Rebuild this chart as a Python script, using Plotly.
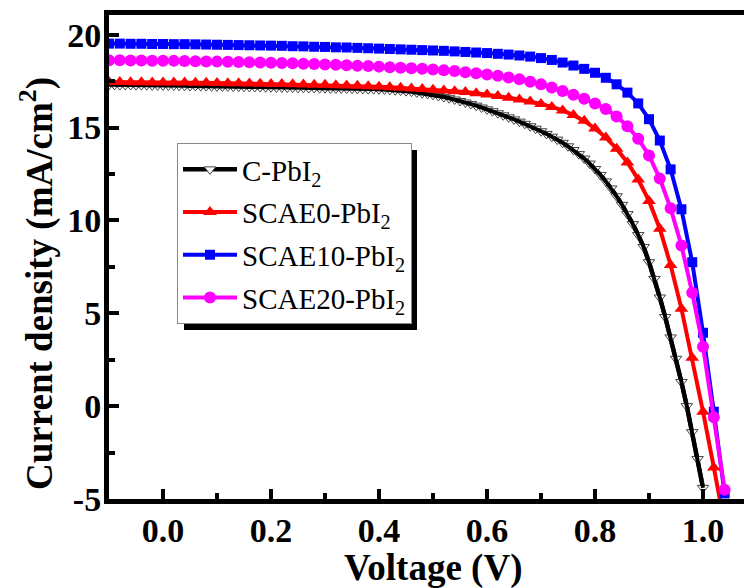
import plotly.graph_objects as go

# ---------------- data ----------------
v_black = [-0.10, -0.09, -0.08, -0.07, -0.06, -0.05, -0.04, -0.03, -0.02, -0.01,
           0.00, 0.01, 0.02, 0.03, 0.04, 0.05, 0.06, 0.07, 0.08, 0.09,
           0.10, 0.11, 0.12, 0.13, 0.14, 0.15, 0.16, 0.17, 0.18, 0.19,
           0.20, 0.21, 0.22, 0.23, 0.24, 0.25, 0.26, 0.27, 0.28, 0.29,
           0.30, 0.31, 0.32, 0.33, 0.34, 0.35, 0.36, 0.37, 0.38, 0.39,
           0.40, 0.41, 0.42, 0.43, 0.44, 0.45, 0.46, 0.47, 0.48, 0.49,
           0.50, 0.51, 0.52, 0.53, 0.54, 0.55, 0.56, 0.57, 0.58, 0.59,
           0.60, 0.61, 0.62, 0.63, 0.64, 0.65, 0.66, 0.67, 0.68, 0.69,
           0.70, 0.71, 0.72, 0.73, 0.74, 0.75, 0.76, 0.77, 0.78, 0.79,
           0.80, 0.81, 0.82, 0.83, 0.84, 0.85, 0.86, 0.87, 0.88, 0.89,
           0.90, 0.91, 0.92, 0.93, 0.94, 0.95, 0.96, 0.97, 0.98, 0.99, 1.00]
j_c_pbi2 = [17.30, 17.30, 17.29, 17.29, 17.29, 17.28, 17.28, 17.28, 17.27, 17.27,
            17.27, 17.26, 17.26, 17.25, 17.25, 17.24, 17.24, 17.23, 17.23, 17.22,
            17.22, 17.21, 17.21, 17.20, 17.20, 17.19, 17.19, 17.18, 17.18, 17.17,
            17.17, 17.16, 17.16, 17.15, 17.15, 17.14, 17.14, 17.13, 17.13, 17.12,
            17.12, 17.11, 17.11, 17.10, 17.10, 17.09, 17.09, 17.08, 17.07, 17.07,
            17.06, 17.05, 17.03, 17.01, 16.99, 16.96, 16.93, 16.89, 16.85, 16.81,
            16.76, 16.70, 16.64, 16.58, 16.51, 16.43, 16.35, 16.27, 16.18, 16.08,
            15.98, 15.88, 15.77, 15.66, 15.55, 15.44, 15.32, 15.20, 15.07, 14.94,
            14.80, 14.66, 14.51, 14.35, 14.18, 13.99, 13.79, 13.57, 13.33, 13.06,
            12.77, 12.45, 12.10, 11.72, 11.30, 10.84, 10.34, 9.80, 9.21, 8.57,
            7.75, 6.85, 5.85, 4.80, 3.70, 2.55, 1.30, 0.00, -1.40, -2.85, -4.40]

v_coarse = [-0.10, -0.08, -0.06, -0.04, -0.02, 0.00, 0.02, 0.04, 0.06, 0.08,
            0.10, 0.12, 0.14, 0.16, 0.18, 0.20, 0.22, 0.24, 0.26, 0.28,
            0.30, 0.32, 0.34, 0.36, 0.38, 0.40, 0.42, 0.44, 0.46, 0.48,
            0.50, 0.52, 0.54, 0.56, 0.58, 0.60, 0.62, 0.64, 0.66, 0.68,
            0.70, 0.72, 0.74, 0.76, 0.78, 0.80, 0.82, 0.84, 0.86, 0.88,
            0.90, 0.92, 0.94, 0.96, 0.98, 1.00, 1.02, 1.04]
j_scae0 = [17.45, 17.45, 17.44, 17.44, 17.43, 17.43, 17.42, 17.42, 17.41, 17.41,
           17.40, 17.39, 17.38, 17.37, 17.36, 17.35, 17.34, 17.33, 17.32, 17.31,
           17.30, 17.28, 17.27, 17.25, 17.22, 17.20, 17.17, 17.14, 17.10, 17.07,
           17.04, 17.00, 16.96, 16.91, 16.85, 16.78, 16.70, 16.61, 16.51, 16.40,
           16.27, 16.11, 15.92, 15.67, 15.36, 14.95, 14.46, 13.86, 13.12, 12.20,
           11.05, 9.55, 7.60, 5.25, 2.60, -0.30, -3.30, -6.40]
j_scae10 = [19.52, 19.52, 19.51, 19.51, 19.50, 19.50, 19.49, 19.49, 19.48, 19.47,
            19.46, 19.45, 19.44, 19.43, 19.42, 19.41, 19.40, 19.38, 19.37, 19.35,
            19.34, 19.32, 19.31, 19.29, 19.27, 19.25, 19.23, 19.21, 19.19, 19.17,
            19.15, 19.13, 19.10, 19.07, 19.04, 19.01, 18.97, 18.93, 18.88, 18.82,
            18.74, 18.64, 18.50, 18.34, 18.16, 17.95, 17.68, 17.33, 16.88, 16.30,
            15.45, 14.30, 12.75, 10.60, 7.75, 3.95, -0.30, -4.70]
j_scae20 = [18.62, 18.62, 18.61, 18.61, 18.60, 18.60, 18.59, 18.58, 18.57, 18.56,
            18.55, 18.54, 18.53, 18.52, 18.50, 18.49, 18.47, 18.46, 18.44, 18.42,
            18.40, 18.38, 18.36, 18.33, 18.31, 18.28, 18.25, 18.22, 18.19, 18.16,
            18.12, 18.08, 18.04, 17.98, 17.92, 17.86, 17.79, 17.70, 17.60, 17.47,
            17.33, 17.16, 16.97, 16.77, 16.55, 16.30, 16.00, 15.60, 15.07, 14.40,
            13.50, 12.25, 10.65, 8.65, 6.10, 3.20, -0.60, -4.50]

names = ["C-PbI<sub>2</sub>", "SCAE0-PbI<sub>2</sub>",
         "SCAE10-PbI<sub>2</sub>", "SCAE20-PbI<sub>2</sub>"]

x_tickvals = [0.0, 0.2, 0.4, 0.6, 0.8, 1.0]
x_ticktext = ["0.0", "0.2", "0.4", "0.6", "0.8", "1.0"]
y_tickvals = [-5, 0, 5, 10, 15, 20]
y_ticktext = ["-5", "0", "5", "10", "15", "20"]
x_title = "Voltage (V)"
y_title = "Current density (mA/cm<sup>2</sup>)"

# ---------------- figure ----------------
# The page body adds an 8 px offset, so the figure is 744x580 and every
# page-pixel target below is converted with OFF = 8.
OFF = 8
W, H = 744, 580
L, T, B = 109 - OFF, 15 - OFF, H - (499 - OFF)
PW, PH = W - L, H - T - B


def px(xp):
    return (xp - OFF - L) / PW


def py(yp):
    return (H - B - (yp - OFF)) / PH


FONT = "Liberation Serif, Times New Roman, serif"
fig = go.Figure()

# C-PbI2: hollow triangles with the thick black line drawn over them
fig.add_trace(go.Scatter(
    x=v_black, y=j_c_pbi2, name=names[0], mode="lines+markers", legendgroup="a",
    line=dict(color="black", width=4.5),
    marker=dict(symbol="triangle-down", size=10, color="white",
                line=dict(color="#444444", width=1)),
))
fig.add_trace(go.Scatter(
    x=v_black, y=j_c_pbi2, mode="lines", legendgroup="a", showlegend=False,
    line=dict(color="black", width=4), hoverinfo="skip",
))
fig.add_trace(go.Scatter(
    x=v_coarse, y=j_scae0, name=names[1], mode="lines+markers", legendgroup="b",
    line=dict(color="#ff0000", width=4),
    marker=dict(symbol="triangle-up", size=12, color="#ff0000"),
))
fig.add_trace(go.Scatter(
    x=v_coarse, y=j_scae10, name=names[2], mode="lines+markers", legendgroup="c",
    line=dict(color="#0000ff", width=4),
    marker=dict(symbol="square", size=10, color="#0000ff"),
))
fig.add_trace(go.Scatter(
    x=v_coarse, y=j_scae20, name=names[3], mode="lines+markers", legendgroup="d",
    line=dict(color="#ff00ff", width=4),
    marker=dict(symbol="circle", size=12, color="#ff00ff"),
))

# legend drop shadow
fig.add_shape(type="rect", xref="paper", yref="paper",
              x0=px(184), x1=px(417), y0=py(330), y1=py(150),
              fillcolor="black", line=dict(width=0), layer="above")

axis_common = dict(
    showline=True, linecolor="black", linewidth=5,
    ticks="inside", tickcolor="black", tickwidth=4, ticklen=10,
    showgrid=False, zeroline=False, automargin=False,
    tickfont=dict(family=FONT, size=34, color="black", weight="bold"),
)

fig.update_xaxes(
    **axis_common, range=[-0.1, 1.0907], mirror=True,
    tickvals=x_tickvals, ticktext=x_ticktext, ticklabelstandoff=-3,
    minor=dict(tickvals=[0.1, 0.3, 0.5, 0.7, 0.9], ticks="inside",
               ticklen=6, tickwidth=4, tickcolor="black"),
)
fig.update_yaxes(
    **axis_common, range=[-5, 21.06], mirror=False,
    tickvals=y_tickvals, ticktext=y_ticktext, ticklabelstandoff=-4,
    minor=dict(tickvals=[-2.5, 2.5, 7.5, 12.5, 17.5], ticks="inside",
               ticklen=6, tickwidth=4, tickcolor="black"),
)

fig.add_annotation(text=x_title, xref="paper", yref="paper",
                   x=px(433), y=py(568),
                   xanchor="center", yanchor="middle", showarrow=False,
                   font=dict(family=FONT, size=37, color="black", weight="bold"))
fig.add_annotation(text=y_title, xref="paper", yref="paper",
                   x=px(37), y=py(284), textangle=-90,
                   xanchor="center", yanchor="middle", showarrow=False,
                   font=dict(family=FONT, size=37, color="black", weight="bold"))

fig.update_layout(
    width=W, height=H,
    margin=dict(l=L, r=0, t=T, b=B, autoexpand=False),
    paper_bgcolor="white", plot_bgcolor="white",
    font=dict(family=FONT, color="black"),
    legend=dict(
        x=px(177), y=py(143), xanchor="left", yanchor="top",
        bgcolor="white", bordercolor="#888888", borderwidth=1,
        font=dict(family=FONT, size=29, color="black"),
        itemwidth=54, tracegroupgap=2,
    ),
    showlegend=True,
)

fig.write_html("out.html")
